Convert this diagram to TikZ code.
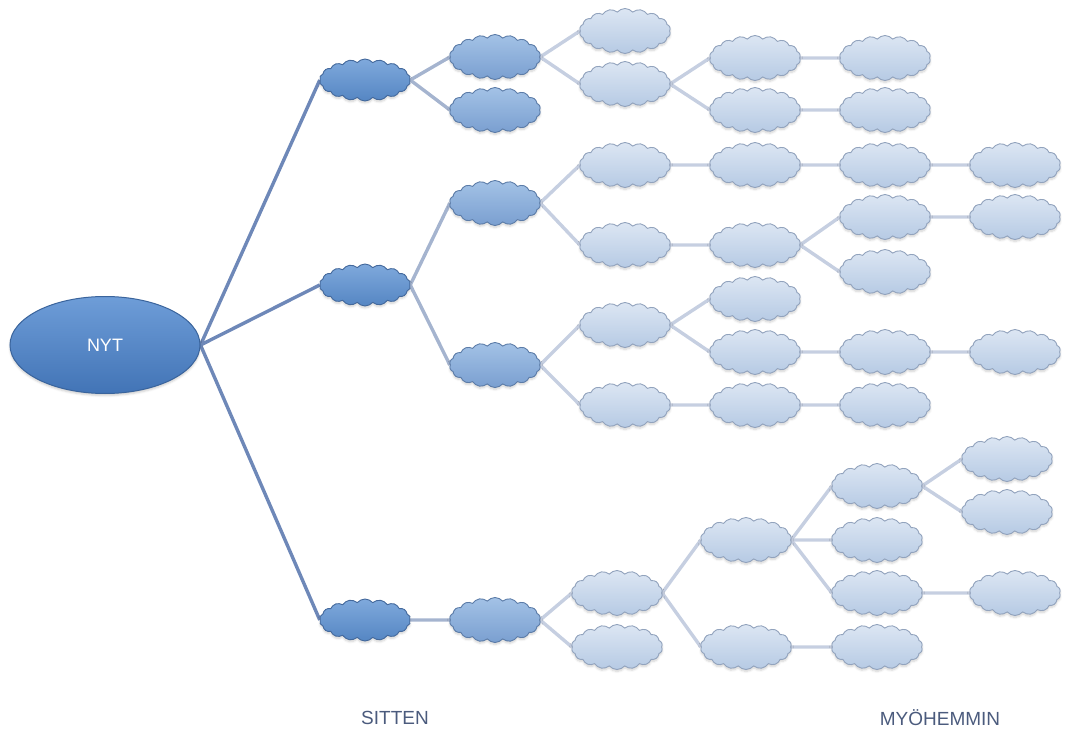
\documentclass[tikz,border=0pt]{standalone}
\usepackage{fontspec}
\setmainfont{Liberation Sans}
\usetikzlibrary{shapes.symbols,shapes.geometric,backgrounds,shadows.blur}

\definecolor{roottop}{HTML}{6E9DD8}
\definecolor{rootbot}{HTML}{4274B6}
\definecolor{rootedge}{HTML}{3A649C}
\definecolor{darktop}{HTML}{7FA9DC}
\definecolor{darkbot}{HTML}{5586C3}
\definecolor{darkedge}{HTML}{44699C}
\definecolor{midtop}{HTML}{A3C2E6}
\definecolor{midbot}{HTML}{7A9FD0}
\definecolor{midedge}{HTML}{5C7CA8}
\definecolor{lighttop}{HTML}{DCE6F3}
\definecolor{lightbot}{HTML}{B6CAE4}
\definecolor{lightedge}{HTML}{92A3BD}
\definecolor{linkdark}{HTML}{6E88B8}
\definecolor{linkmid}{HTML}{A5B4CF}
\definecolor{linklight}{HTML}{C6CFE1}
\definecolor{labeltext}{HTML}{4B5B7D}

\begin{document}
\begin{tikzpicture}[x=1pt,y=-1pt,
  cloudbase/.style={cloud, cloud puffs=18, cloud puff arc=100, aspect=2.2,
    inner sep=0pt, minimum width=91pt, minimum height=45pt, line width=0.9pt,
    blur shadow={shadow xshift=0pt, shadow yshift=-2pt, shadow opacity=18, shadow blur steps=6}},
  darkcloud/.style={cloudbase, draw=darkedge, top color=darktop, bottom color=darkbot, minimum height=42pt},
  midcloud/.style={cloudbase, draw=midedge, top color=midtop, bottom color=midbot},
  lightcloud/.style={cloudbase, draw=lightedge, top color=lighttop, bottom color=lightbot},
  rootnode/.style={ellipse, draw=rootedge, line width=1pt, top color=roottop, bottom color=rootbot,
    minimum width=190pt, minimum height=97pt, text=white, font=\fontsize{18}{20}\selectfont,
    blur shadow={shadow xshift=0pt, shadow yshift=-2pt, shadow opacity=20}},
  rootlink/.style={draw=linkdark, line width=3.4pt},
  midlink/.style={draw=linkmid, line width=3.4pt},
  lightlink/.style={draw=linklight, line width=3.4pt},
  caption/.style={text=labeltext, font=\fontsize{19}{22}\selectfont}
]
\useasboundingbox (0,0) rectangle (1065,735);

% root
\node[rootnode] (nyt) at (105,345) {NYT};

% first generation
\node[darkcloud] (a1) at (365,80) {};
\node[darkcloud] (a2) at (365,285) {};
\node[darkcloud] (a3) at (365,620) {};

% second generation
\node[midcloud] (b1) at (495,57) {};
\node[midcloud] (b2) at (495,110) {};
\node[midcloud] (b3) at (495,203) {};
\node[midcloud] (b4) at (495,365) {};
\node[midcloud] (b5) at (495,620) {};

% third generation
\node[lightcloud] (c1) at (625,31) {};
\node[lightcloud] (c2) at (625,84) {};
\node[lightcloud] (c3) at (625,165) {};
\node[lightcloud] (c4) at (625,245) {};
\node[lightcloud] (c5) at (625,325) {};
\node[lightcloud] (c6) at (625,405) {};
\node[lightcloud] (c7) at (617,593) {};
\node[lightcloud] (c8) at (617,647) {};

% fourth generation
\node[lightcloud] (d1) at (755,58) {};
\node[lightcloud] (d2) at (755,110) {};
\node[lightcloud] (d3) at (755,165) {};
\node[lightcloud] (d4) at (755,245) {};
\node[lightcloud] (d5) at (755,299) {};
\node[lightcloud] (d6) at (755,352) {};
\node[lightcloud] (d7) at (755,405) {};
\node[lightcloud] (d8) at (746,540) {};
\node[lightcloud] (d9) at (746,647) {};

% fifth generation
\node[lightcloud] (e1) at (885,58) {};
\node[lightcloud] (e2) at (885,110) {};
\node[lightcloud] (e3) at (885,165) {};
\node[lightcloud] (e4) at (885,217) {};
\node[lightcloud] (e5) at (885,272) {};
\node[lightcloud] (e6) at (885,352) {};
\node[lightcloud] (e7) at (885,405) {};
\node[lightcloud] (e8) at (877,486) {};
\node[lightcloud] (e9) at (877,540) {};
\node[lightcloud] (e10) at (877,593) {};
\node[lightcloud] (e11) at (877,647) {};

% sixth generation
\node[lightcloud] (f1) at (1015,165) {};
\node[lightcloud] (f2) at (1015,217) {};
\node[lightcloud] (f3) at (1015,352) {};
\node[lightcloud] (f4) at (1007,459) {};
\node[lightcloud] (f5) at (1007,512) {};
\node[lightcloud] (f6) at (1015,593) {};

% time axis captions
\node[caption] (soon) at (395,718) {SITTEN};
\node[caption] (later) at (940,718) {MYÖHEMMIN};

% branches, kept behind the clouds
\begin{pgfonlayer}{background}
  \foreach \t in {a1,a2,a3}
    \draw[rootlink] (nyt.east) -- (\t.west);
  \draw[midlink] (a1.east) -- (b1.west);
  \draw[midlink] (a1.east) -- (b2.west);
  \draw[midlink] (a2.east) -- (b3.west);
  \draw[midlink] (a2.east) -- (b4.west);
  \draw[midlink] (a3.east) -- (b5.west);
  \foreach \s/\t in {b1/c1, b1/c2, b3/c3, b3/c4, b4/c5, b4/c6, b5/c7, b5/c8,
                     c2/d1, c2/d2, c3/d3, c4/d4, c5/d5, c5/d6, c6/d7, c7/d8, c7/d9,
                     d1/e1, d2/e2, d3/e3, d4/e4, d4/e5, d6/e6, d7/e7,
                     d8/e8, d8/e9, d8/e10, d9/e11,
                     e3/f1, e4/f2, e6/f3, e8/f4, e8/f5, e10/f6}
    \draw[lightlink] (\s.east) -- (\t.west);
\end{pgfonlayer}
\end{tikzpicture}
\end{document}
